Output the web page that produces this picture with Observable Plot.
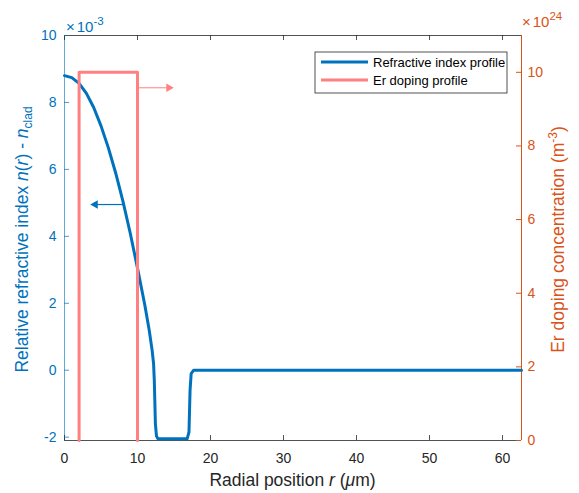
<!DOCTYPE html>
<html>
<head>
<meta charset="utf-8">
<script src="https://cdn.jsdelivr.net/npm/d3@7"></script>
<script src="https://cdn.jsdelivr.net/npm/@observablehq/plot@0.6"></script>
<style>
  html, body { margin: 0; padding: 0; background: white; }
</style>
</head>
<body>
<div id="chart"></div>
<script>
// ---- data ----
const rIndex = [0, 1, 2, 3, 4, 5, 6, 7, 8, 9, 10, 11, 11.6, 12.0, 12.2, 12.3, 12.45, 12.6, 12.8, 16.8, 17.05, 17.2, 17.35, 17.7, 62.6];
const nIndex = [8.80, 8.74, 8.57, 8.27, 7.85, 7.30, 6.65, 5.90, 5.05, 4.10, 3.05, 1.95, 1.20, 0.60, 0.20, -0.30, -1.60, -1.97, -2.05, -2.05, -1.85, -0.60, -0.10, 0, 0];
const rEr = [2, 2, 10, 10];
const erDoping = [0, 10, 10, 0]; // x 10^24 m^-3
const xTicks = [0, 10, 20, 30, 40, 50, 60];
const yTicks = [-2, 0, 2, 4, 6, 8, 10];
const erTicks = [0, 2, 4, 6, 8, 10];
const arrowRed = [{r1: 10.2, r2: 14.7, c: 9.58}];   // right-axis units
const arrowBlue = [{r1: 8.13, r2: 3.8, n: 4.95}];   // left-axis units
const seriesNames = ["Refractive index profile", "Er doping profile"];

// ---- scales ----
const xMax = 62.6;
const yMin = -2.1, yMax = 10;
const erMax = 11;
const toLeft = c => yMin + c * (yMax - yMin) / erMax;
const fromLeft = v => (v - yMin) * erMax / (yMax - yMin);

const W = 579, H = 493;
const mT = 35, mR = 58, mB = 53, mL = 64;
const pW = W - mL - mR, pH = H - mT - mB;

const BLUE = "#0072BD", RED = "#FF8080", ORANGE = "#D95319", GRAY = "#262626";

const indexData = rIndex.map((r, i) => ({r, n: nIndex[i]}));
const erData = rEr.map((r, i) => ({r, c: erDoping[i]}));

const chart = Plot.plot({
  width: W, height: H,
  marginTop: mT, marginRight: mR, marginBottom: mB, marginLeft: mL,
  x: {domain: [0, xMax]},
  y: {domain: [yMin, yMax]},
  style: {fontFamily: "'Liberation Sans', Arial, sans-serif", fontSize: "14px", background: "white", overflow: "visible"},
  marks: [
    // frame lines
    Plot.ruleY([yMax], {stroke: GRAY, strokeWidth: 0.8}),
    Plot.ruleY([yMin], {stroke: GRAY, strokeWidth: 0.8}),
    Plot.ruleX([0], {stroke: BLUE, strokeOpacity: 0.6, strokeWidth: 1}),
    Plot.ruleX([xMax], {stroke: ORANGE, strokeWidth: 1}),
    // inward ticks
    Plot.tickX(xTicks, {x: d => d, stroke: GRAY, strokeWidth: 0.8, insetTop: pH - 5}),
    Plot.tickX(xTicks, {x: d => d, stroke: GRAY, strokeWidth: 0.8, insetBottom: pH - 5}),
    Plot.tickY(yTicks, {y: d => d, stroke: BLUE, strokeOpacity: 0.7, strokeWidth: 1, insetRight: pW - 5}),
    Plot.tickY(erTicks.map(toLeft), {y: d => d, stroke: ORANGE, strokeWidth: 1, insetLeft: pW - 5}),
    // axes labels
    Plot.axisX({ticks: xTicks, tickSize: 0, tickPadding: 13, fill: GRAY, label: null, tickFormat: d => String(d)}),
    Plot.axisY({ticks: yTicks, tickSize: 0, tickPadding: 8, fill: BLUE, label: null, tickFormat: d => String(d)}),
    Plot.axisY({anchor: "right", ticks: erTicks.map(toLeft), tickSize: 0, tickPadding: 6, fill: ORANGE, label: null,
      tickFormat: d => String(Math.round(fromLeft(d)))}),
    // data
    Plot.line(indexData, {x: "r", y: "n", stroke: BLUE, strokeWidth: 3, curve: "linear"}),
    Plot.line(erData, {x: "r", y: d => toLeft(d.c), stroke: RED, strokeWidth: 3}),
    // annotation arrows
    Plot.link(arrowRed, {x1: "r1", x2: "r2", y1: d => toLeft(d.c), y2: d => toLeft(d.c), stroke: RED, strokeWidth: 1}),
    Plot.dot(arrowRed, {x: "r2", y: d => toLeft(d.c), symbol: "triangle", r: 3.2, fill: RED, stroke: "none", rotate: 90, dx: -3}),
    Plot.link(arrowBlue, {x1: "r1", x2: "r2", y1: "n", y2: "n", stroke: BLUE, strokeWidth: 1.2}),
    Plot.dot(arrowBlue, {x: "r2", y: "n", symbol: "triangle", r: 3.2, fill: BLUE, stroke: "none", rotate: -90, dx: 3})
  ]
});

document.getElementById("chart").appendChild(chart);

// ---- text annotations ----
const svg = d3.select(chart);
const font = "'Liberation Sans', Arial, sans-serif";
const labelSize = "17.5px";

// exponent labels
function exponent(x, y, color, exp) {
  const t = svg.append("text").attr("x", x).attr("y", y).attr("fill", color).attr("text-anchor", "start")
    .style("font-family", font).style("font-size", "15px");
  t.append("tspan").text("×");
  t.append("tspan").attr("dx", 2).text("10");
  t.append("tspan").attr("dy", -7).style("font-size", "11.5px").text(exp);
}
exponent(66, 32, BLUE, "-3");
exponent(522, 27, ORANGE, "24");

// x label
const xl = svg.append("text").attr("x", mL + pW / 2).attr("y", 486).attr("text-anchor", "middle")
  .attr("fill", GRAY).style("font-family", font).style("font-size", labelSize);
xl.append("tspan").text("Radial position ");
xl.append("tspan").style("font-style", "italic").text("r");
xl.append("tspan").text(" (");
xl.append("tspan").style("font-style", "italic").text("μ");
xl.append("tspan").text("m)");

// left y label
const yl = svg.append("text").attr("transform", `translate(28,${mT + pH / 2 + 2}) rotate(-90)`)
  .attr("text-anchor", "middle").attr("fill", BLUE).style("font-family", font).style("font-size", labelSize);
yl.append("tspan").text("Relative refractive index ");
yl.append("tspan").style("font-style", "italic").text("n");
yl.append("tspan").text("(");
yl.append("tspan").style("font-style", "italic").text("r");
yl.append("tspan").text(") - ");
yl.append("tspan").style("font-style", "italic").text("n");
yl.append("tspan").attr("dy", 4).style("font-size", "12px").text("clad");

// right y label
const yr = svg.append("text").attr("transform", `translate(564,${mT + pH / 2 + 2}) rotate(-90)`)
  .attr("text-anchor", "middle").attr("fill", ORANGE).style("font-family", font).style("font-size", labelSize);
yr.append("tspan").text("Er doping concentration (m");
yr.append("tspan").attr("dy", -7).style("font-size", "12px").text("-3");
yr.append("tspan").attr("dy", 7).text(")");

// legend
const lg = svg.append("g").attr("text-anchor", "start");
lg.append("rect").attr("x", 315).attr("y", 52).attr("width", 192).attr("height", 41)
  .attr("fill", "white").attr("stroke", GRAY).attr("stroke-width", 0.8);
const legColors = [BLUE, RED];
seriesNames.forEach((name, i) => {
  const y = 62 + i * 18;
  lg.append("line").attr("x1", 321).attr("x2", 368).attr("y1", y).attr("y2", y)
    .attr("stroke", legColors[i]).attr("stroke-width", 3);
  lg.append("text").attr("x", 373).attr("y", y + 4.5).attr("fill", "black").attr("text-anchor", "start")
    .style("font-family", font).style("font-size", "13px").text(name);
});
</script>
</body>
</html>
